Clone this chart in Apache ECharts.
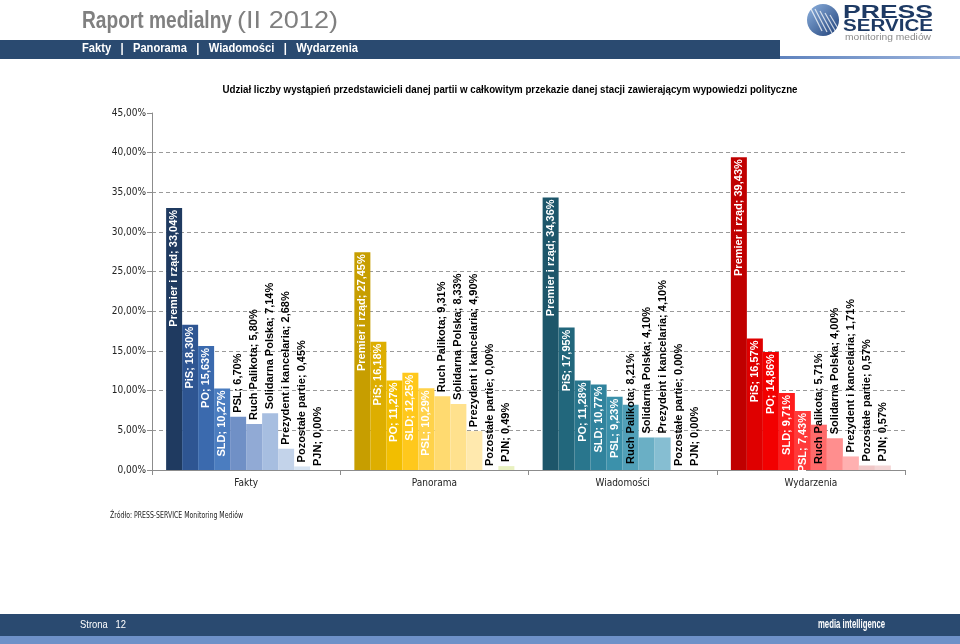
<!DOCTYPE html>
<html>
<head>
<meta charset="utf-8">
<script src="https://cdn.jsdelivr.net/npm/echarts@6/dist/echarts.min.js"></script>
<style>
html,body{margin:0;padding:0;background:#fff;}
#c{width:960px;height:644px;}
</style>
</head>
<body>
<div id="c"></div>
<script>
// ---- DATA ----
const categories = ['Fakty', 'Panorama', 'Wiadomości', 'Wydarzenia'];
const parties = ['Premier i rząd', 'PiS', 'PO', 'SLD', 'PSL', 'Ruch Palikota', 'Solidarna Polska', 'Prezydent i kancelaria', 'Pozostałe partie', 'PJN'];
const fakty      = [33.04, 18.30, 15.63, 10.27, 6.70, 5.80, 7.14, 2.68, 0.45, 0.00];
const panorama   = [27.45, 16.18, 11.27, 12.25, 10.29, 9.31, 8.33, 4.90, 0.00, 0.49];
const wiadomosci = [34.36, 17.95, 11.28, 10.77, 9.23, 8.21, 4.10, 4.10, 0.00, 0.00];
const wydarzenia = [39.43, 16.57, 14.86, 9.71, 7.43, 5.71, 4.00, 1.71, 0.57, 0.57];
const yTicks = [0, 5, 10, 15, 20, 25, 30, 35, 40, 45];

// ---- STYLES ----
const palettes = [
  ['#1F3A60', '#2E5592', '#3B6AAE', '#4B7DC0', '#7090C6', '#91AAD5', '#A7BEE0', '#C3D3EA', '#D6E3F2', '#E6EEF8'],
  ['#C79E00', '#DDAE00', '#F2BE00', '#FFC81C', '#FFD24A', '#FFDA70', '#FFE18D', '#FFE9AE', '#FFF1CE', '#E9F1C0'],
  ['#1D566A', '#22677C', '#29768D', '#30839D', '#3B91AB', '#51A0B8', '#6AAFC5', '#86BED2', '#A9D1E0', '#C8E2EC'],
  ['#C00000', '#DF0000', '#F20000', '#FF1C1C', '#FF3A3A', '#FF6A6A', '#FF8E8E', '#FFB0B0', '#F0C8C8', '#F4D6D6']
];
// label placement per category/party: in = inside end (white), out = above bar (black), base = from base upward (black)
const placement = [
  ['in','in','in','in','out','out','out','out','out','out'],
  ['in','in','in','in','in','out','out','out','out','out'],
  ['in','in','in','in','in','base','out','out','out','out'],
  ['in','in','in','in','in','base','out','out','out','out']
];
const values = [fakty, panorama, wiadomosci, wydarzenia];
const fmt = v => v.toFixed(2).replace('.', ',') + '%';

function labelFor(kind) {
  const base = {show: true, rotate: 90, verticalAlign: 'middle', fontFamily: 'Liberation Sans, Arial, sans-serif',
    fontWeight: 'bold', fontSize: 11};
  if (kind === 'in') return Object.assign(base, {position: 'insideTop', align: 'right', color: '#fff', distance: 2});
  if (kind === 'base') return Object.assign(base, {position: 'insideBottom', align: 'left', color: '#000', distance: 6});
  return Object.assign(base, {position: 'top', align: 'left', color: '#000', distance: 4});
}

const series = parties.map((p, si) => ({
  name: p,
  type: 'bar',
  barGap: 0,
  barCategoryGap: '15%',
  data: categories.map((c, ci) => ({
    value: values[ci][si],
    itemStyle: {color: palettes[ci][si]},
    label: Object.assign(labelFor(placement[ci][si]), {formatter: prm => p + '; ' + fmt(prm.value)})
  }))
}));

// text helper: fits text into a target width by horizontal scaling
const mctx = document.createElement('canvas').getContext('2d');
function fitText(str, font, x, y, width, fill, align) {
  mctx.font = font;
  const w = mctx.measureText(str).width;
  return {type: 'text', x: x, y: y, scaleX: width / w,
    style: {text: str, font: font, fill: fill, textAlign: align || 'left', textVerticalAlign: 'top'}};
}

const chart = echarts.init(document.getElementById('c'), null, {renderer: 'canvas'});
const gridCol = '#9A9A9A';
const axisFont = '"DejaVu Sans Condensed", "DejaVu Sans", sans-serif';
chart.setOption({
  animation: false,
  backgroundColor: '#fff',
  grid: {left: 152, right: 55, top: 113, bottom: 174, containLabel: false},
  xAxis: {
    type: 'category', data: categories,
    axisLine: {lineStyle: {color: '#8C8C8C'}},
    axisTick: {show: true, length: 5, lineStyle: {color: '#8C8C8C'}},
    axisLabel: {color: '#222', fontFamily: axisFont, fontSize: 10, margin: 8}
  },
  yAxis: {
    type: 'value', min: yTicks[0], max: yTicks[yTicks.length - 1], interval: 5,
    axisLine: {show: true, lineStyle: {color: '#8C8C8C'}},
    axisTick: {show: true, length: 5, lineStyle: {color: '#8C8C8C'}},
    axisLabel: {color: '#222', fontFamily: axisFont, fontSize: 10, margin: 6, formatter: v => fmt(v)},
    splitLine: {show: true, lineStyle: {type: [4, 3], color: yTicks.map((t, i) => i === yTicks.length - 1 ? 'rgba(0,0,0,0)' : gridCol)}}
  },
  series: series,
  graphic: [
    // header
    fitText('Raport medialny', 'bold 24px "Liberation Sans", sans-serif', 82, 9, 150, '#808080'),
    fitText('(II 2012)', '24px "Liberation Sans", sans-serif', 237, 9, 101, '#808080'),
    {type: 'rect', shape: {x: 0, y: 40, width: 780, height: 19}, style: {fill: '#2A4A70'}},
    {type: 'rect', shape: {x: 780, y: 56, width: 180, height: 3}, style: {fill: new echarts.graphic.LinearGradient(0, 0, 1, 0, [{offset: 0, color: '#5F83BE'}, {offset: 1, color: '#9DB5DD'}])}},
    fitText('Fakty   |   Panorama   |   Wiadomości   |   Wydarzenia', 'bold 12px "Liberation Sans", sans-serif', 82, 43, 276, '#fff'),
    // logo
    {type: 'circle', shape: {cx: 823, cy: 20, r: 16}, style: {fill: new echarts.graphic.LinearGradient(0, 0, 1, 1, [{offset: 0, color: '#8FB3E0'}, {offset: 1, color: '#1E3F78'}])}},
    {type: 'group', children: [0,1,2,3,4].map(i => ({type: 'line', shape: {x1: 810 + i * 5, y1: 7 + i * 2, x2: 822 + i * 5, y2: 31 + i * 1}, style: {stroke: 'rgba(255,255,255,0.75)', lineWidth: 1.2}}))},
    fitText('PRESS', 'bold 18px "Liberation Sans", sans-serif', 843, 4, 90, '#1E3A64'),
    fitText('SERVICE', 'bold 16px "Liberation Sans", sans-serif', 843, 19, 90, '#1E3A64'),
    fitText('monitoring mediów', '9px "Liberation Sans", sans-serif', 845, 33, 86, '#8A8A8A'),
    // chart title
    fitText('Udział liczby wystąpień przedstawicieli danej partii w całkowitym przekazie danej stacji zawierającym wypowiedzi polityczne',
      'bold 11px "Liberation Sans", sans-serif', 510, 84, 575, '#000', 'center'),
    // source
    fitText('Źródło: PRESS-SERVICE Monitoring Mediów', '8px "DejaVu Sans", sans-serif', 110, 512, 133, '#222'),
    // footer
    {type: 'rect', shape: {x: 0, y: 614, width: 960, height: 22}, style: {fill: '#2A4A70'}},
    {type: 'rect', shape: {x: 0, y: 636, width: 960, height: 8}, style: {fill: '#6E91C8'}},
    fitText('Strona   12', '11px "Liberation Sans", sans-serif', 80, 619, 46, '#fff'),
    fitText('media intelligence', 'bold 13px "Liberation Sans", sans-serif', 818, 618, 67, '#fff')
  ]
});
</script>
</body>
</html>
